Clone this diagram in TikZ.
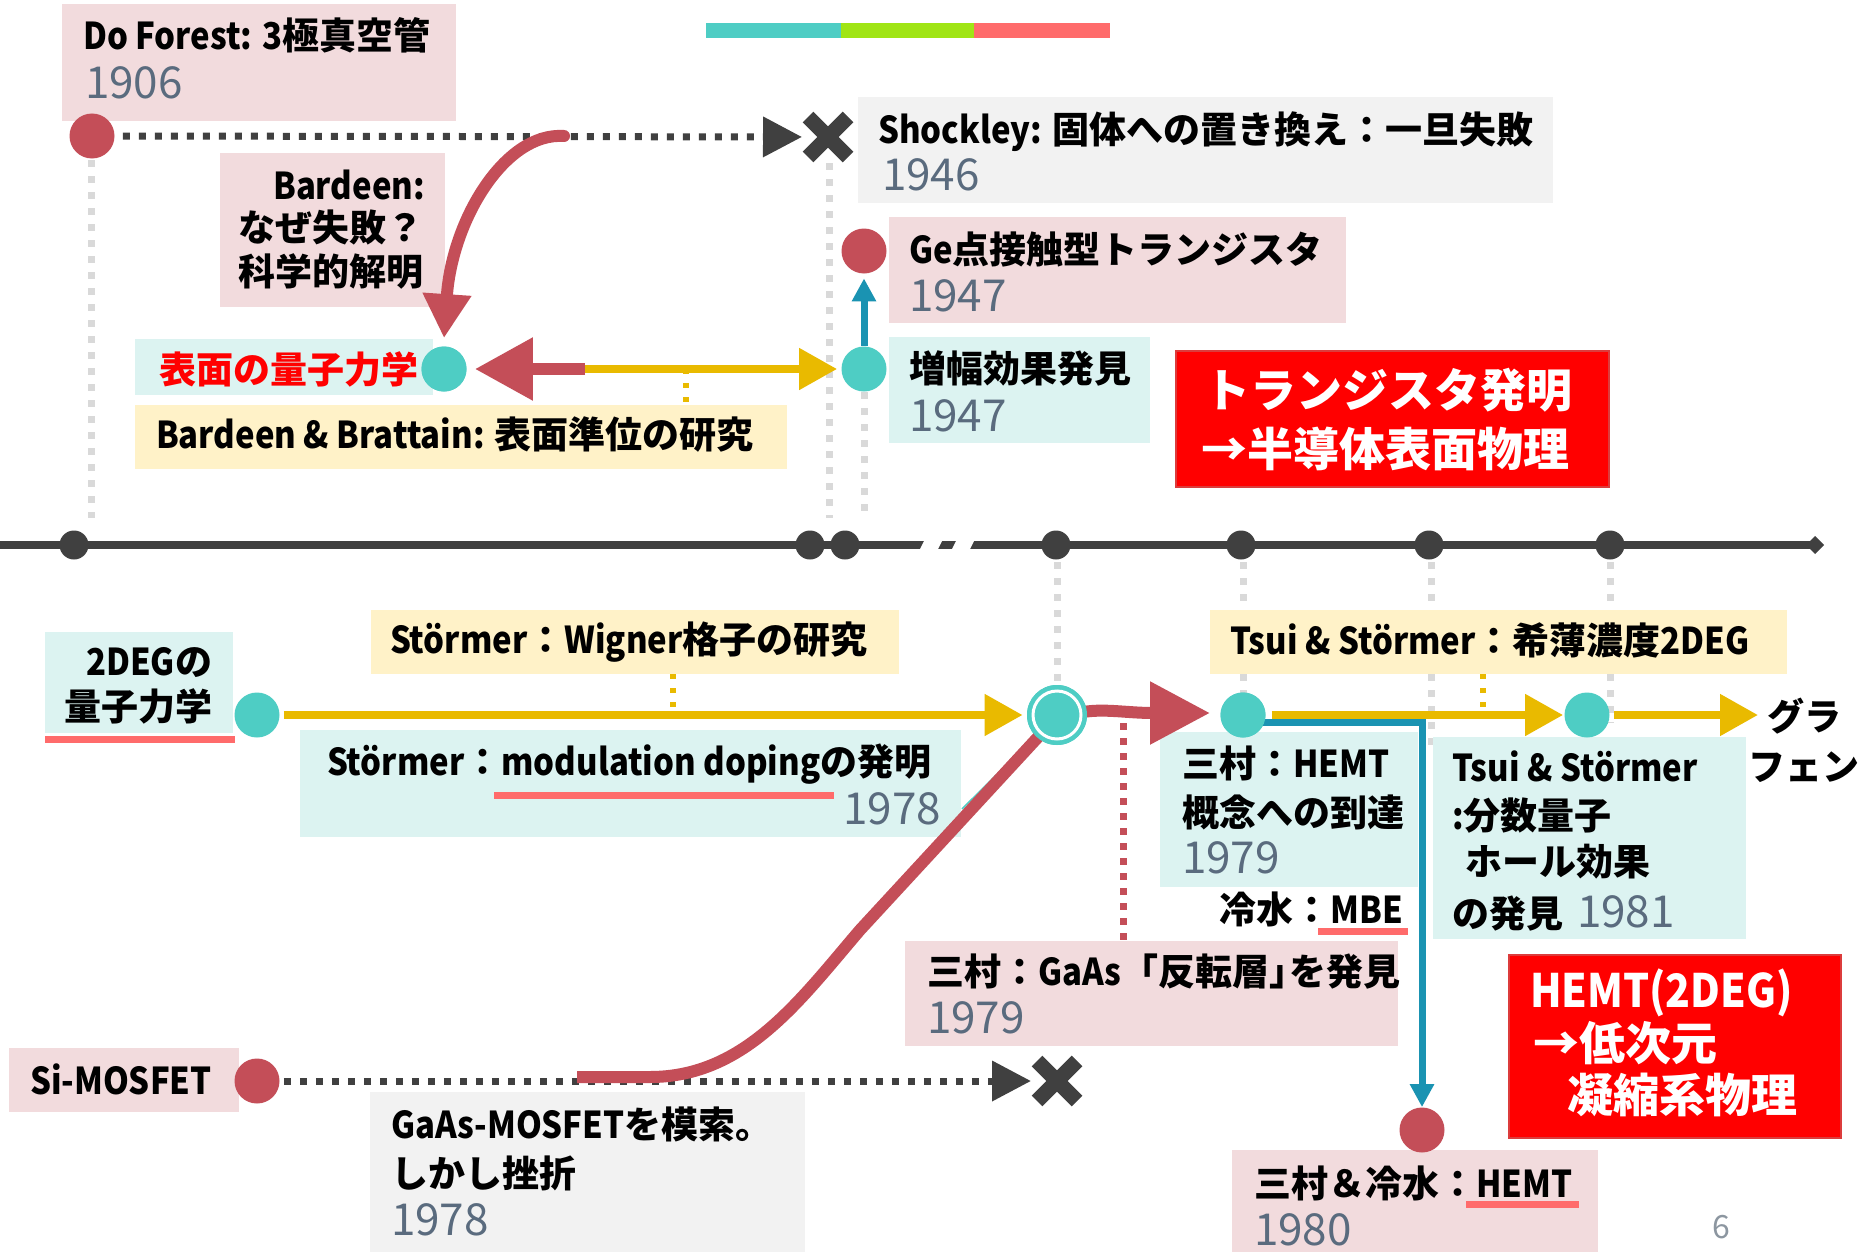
\documentclass[tikz,border=0pt]{standalone}
\usepackage{fontspec}
\setmainfont{Noto Sans CJK JP}
\newfontfamily\latfont{Noto Sans CJK JP}[FakeStretch=0.89]
\newcommand\lat[1]{{\latfont #1}}
\usetikzlibrary{arrows.meta,fit}
\definecolor{pinkbg}{HTML}{F2DBDD}
\definecolor{tealbg}{HTML}{DCF3F1}
\definecolor{yellowbg}{HTML}{FFF2C8}
\definecolor{graybg}{HTML}{F2F2F2}
\definecolor{dotred}{HTML}{C44E58}
\definecolor{dotteal}{HTML}{4ECDC4}
\definecolor{darkc}{HTML}{404040}
\definecolor{goldc}{HTML}{E9BA00}
\definecolor{bluec}{HTML}{1A93B2}
\definecolor{yearc}{HTML}{5A6B7E}
\definecolor{ulc}{HTML}{FF6B6B}
\definecolor{grayln}{HTML}{D9D9D9}
\definecolor{bargreen}{HTML}{A0E515}
\definecolor{bigred}{HTML}{FF0000}
\definecolor{pagec}{HTML}{8C96A0}
\newcommand\txm{\fontsize{18.5pt}{22pt}\selectfont\bfseries}
\newcommand\txy{\fontsize{22pt}{26pt}\selectfont}
\newcommand\txr{\fontsize{23pt}{27pt}\selectfont\bfseries}
\tikzset{
  box/.style={inner sep=0pt, outer sep=0pt, draw=none},
  lbl/.style={anchor=base west, inner sep=0pt, outer sep=0pt, font=\txm},
  lble/.style={anchor=base east, inner sep=0pt, outer sep=0pt, font=\txm},
  yr/.style={anchor=base west, inner sep=0pt, outer sep=0pt, font=\txy, text=yearc},
  yre/.style={anchor=base east, inner sep=0pt, outer sep=0pt, font=\txy, text=yearc},
  wlbl/.style={anchor=base west, inner sep=0pt, outer sep=0pt, font=\txr, text=white},
  rdot/.style={circle, fill=dotred, minimum size=22.5pt, inner sep=0pt},
  tdot/.style={circle, fill=dotteal, minimum size=22.5pt, inner sep=0pt},
  tldot/.style={circle, fill=darkc, minimum size=14.5pt, inner sep=0pt},
  xnode/.style={minimum size=26pt, inner sep=0pt, outer sep=0pt},
  gline/.style={grayln, line width=3.5pt, dash pattern=on 3.5pt off 4.5pt},
  dkdots/.style={darkc, line width=3.5pt, dash pattern=on 3.5pt off 4.5pt, -{Triangle[length=19.5pt,width=19.5pt]}},
  yarrow/.style={goldc, line width=4pt, -{Triangle[length=19pt,width=20pt]}},
  ydash/.style={goldc, line width=3pt, dash pattern=on 2.5pt off 4.5pt},
  rdash/.style={dotred, line width=3.5pt, dash pattern=on 3.5pt off 4pt},
  uline/.style={ulc, line width=3.5pt},
  redarrow/.style={dotred, line width=6pt, -{Triangle[length=29pt,width=30pt]}},
  bluearrow/.style={bluec, line width=3.5pt, -{Triangle[length=11.5pt,width=11.5pt]}},
  xmk/.style={darkc, line width=7.5pt},
}
\begin{document}
\begin{tikzpicture}[x=0.5pt, y=-0.5pt]
\useasboundingbox[fill=white] (0,0) rectangle (1868,1252);

% colour bar
\fill[dotteal] (706,23) rectangle (841,38);
\fill[bargreen] (841,23) rectangle (974,38);
\fill[ulc] (974,23) rectangle (1110,38);

% gray vertical guides
\draw[gline] (91,160) -- (91,518);
\draw[gline] (829,163) -- (829,518);
\draw[gline] (864,392) -- (864,518);
\draw[gline] (1057,562) -- (1057,684);
\draw[gline] (1243,562) -- (1243,693);
\draw[gline] (1431,562) -- (1431,753);
\draw[gline] (1610,562) -- (1610,723);

% timeline
\draw[darkc, line width=4pt] (0,545) -- (1815,545);
\fill[white] (925,539) -- (943,539) -- (937,551) -- (919,551) -- cycle;
\fill[white] (957,539) -- (975,539) -- (969,551) -- (951,551) -- cycle;
\fill[darkc] (1806,545) -- (1815,536) -- (1824,545) -- (1815,554) -- cycle;
\foreach \n/\x in {t1/74,t2/810,t3/845,t4/1056,t5/1241,t6/1429,t7/1610}
  \node[tldot] (\n) at (\x,545) {};

% boxes
\node[box, fill=pinkbg, fit={(62,4) (456,121)}] (bdforest) {};
\node[box, fill=graybg, fit={(858,97) (1553,203)}] (bshock) {};
\node[box, fill=pinkbg, fit={(889,217) (1346,323)}] (bge) {};
\node[box, fill=tealbg, fit={(889,337) (1150,443)}] (bamp) {};
\node[box, fill=pinkbg, fit={(220,153) (445,307)}] (bbard) {};
\node[box, fill=tealbg, fit={(135,339) (433,395)}] (bsurf) {};
\node[box, fill=yellowbg, fit={(135,405) (787,469)}] (bbb) {};
\node[box, fill=bigred, draw={rgb,255:red,220;green,60;blue,60}, line width=1pt, fit={(1176,351) (1609,487)}] (binv) {};
\node[box, fill=tealbg, fit={(45,632) (233,733)}] (b2deg) {};
\node[box, fill=yellowbg, fit={(371,610) (899,674)}] (bwig) {};
\node[box, fill=tealbg, fit={(300,730) (961,837)}] (bmod) {};
\node[box, fill=pinkbg, fit={(9,1048) (239,1112)}] (bsi) {};
\node[box, fill=graybg, fit={(370,1092) (805,1252)}] (bgaasmos) {};
\node[box, fill=pinkbg, fit={(905,941) (1398,1046)}] (binvl) {};
\node[box, fill=tealbg, fit={(1160,732) (1418,887)}] (bhemtc) {};
\node[box, fill=yellowbg, fit={(1210,610) (1787,674)}] (btsuiy) {};
\node[box, fill=tealbg, fit={(1433,737) (1746,939)}] (btsuit) {};
\node[box, fill=bigred, draw={rgb,255:red,220;green,60;blue,60}, line width=1pt, fit={(1509,955) (1841,1138)}] (bhemtr) {};
\node[box, fill=pinkbg, fit={(1232,1150) (1598,1252)}] (bhemt80) {};

% texts
\node[lbl] (tdf) at (83,50) {\lat{Do Forest: 3}極真空管};
\node[yr] (ydf) at (85,98) {1906};
\node[lbl] (tsh) at (878,143) {\lat{Shockley: }固体への置き換え：一旦失敗};
\node[yr] (ysh) at (882,191) {1946};
\node[lbl] (tge) at (909,263) {\lat{Ge}点接触型トランジスタ};
\node[yr] (yge) at (909,311) {1947};
\node[lbl] (tamp) at (909,382) {増幅効果発見};
\node[yr] (yamp) at (909,431) {1947};
\node[lble] (tbd1) at (425,199) {\lat{Bardeen:}};
\node[lble] (tbd2) at (423,241) {なぜ失敗？};
\node[lble] (tbd3) at (423,285) {科学的解明};
\node[lbl, text=red] (tsurf) at (159,383) {表面の量子力学};
\node[lbl] (tbb) at (156,448) {\lat{Bardeen \& Brattain: }表面準位の研究};
\node[wlbl] (tinv1) at (1204,407) {トランジスタ発明};
\node[wlbl] (tinv2) at (1201,466) {→半導体表面物理};
\node[lble] (t2d1) at (212,675) {\lat{2DEG}の};
\node[lble] (t2d2) at (212,720) {量子力学};
\node[lbl] (twig) at (390,653) {\lat{Störmer}：\lat{Wigner}格子の研究};
\node[lbl] (tmod) at (327,775) {\lat{Störmer}：\lat{modulation doping}の発明};
\node[yre] (ymod) at (941,824) {1978};
\node[lbl] (tsi) at (30,1094) {\lat{Si-MOSFET}};
\node[lbl] (tgm1) at (391,1138) {\lat{GaAs-MOSFET}を模索。};
\node[lbl] (tgm2) at (391,1187) {しかし挫折};
\node[yr] (ygm) at (391,1235) {1978};
\node[lbl] (til) at (927,985) {三村：\lat{GaAs}「反転層」\hspace{-0.45em}を発見};
\node[yr] (yil) at (927,1033) {1979};
\node[lbl] (thc1) at (1182,777) {三村：\lat{HEMT}};
\node[lbl] (thc2) at (1182,826) {概念への到達};
\node[yr] (yhc) at (1182,873) {1979};
\node[lble] (tmbe) at (1403,923) {冷水：\lat{MBE}};
\node[lbl] (tts) at (1230,654) {\lat{Tsui \& Störmer}：希薄濃度\lat{2DEG}};
\node[lbl] (tq1) at (1452,781) {\lat{Tsui \& Störmer}};
\node[lbl] (tq2) at (1452,829) {\lat{:}分数量子};
\node[lbl] (tq3) at (1465,875) {ホール効果};
\node[lbl] (tq4) at (1452,927) {の発見};
\node[yr] (yq) at (1577,927) {1981};
\node[wlbl] (th1) at (1530,1007) {\lat{HEMT(2DEG)}};
\node[wlbl] (th2) at (1533,1060) {→低次元};
\node[wlbl] (th3) at (1567,1112) {凝縮系物理};
\node[lbl] (t80) at (1254,1197) {三村＆冷水：\lat{HEMT}};
\node[yr] (y80) at (1254,1245) {1980};
\node[lbl] (tgr1) at (1767,730) {グラ};
\node[lbl] (tgr2) at (1748,780) {フェン};
\node[anchor=base west, inner sep=0pt, font=\fontsize{16pt}{18pt}\selectfont, text=pagec] (pnum) at (1712,1238) {6};

% underlines
\draw[uline] (45,739) -- (235,739);
\draw[uline] (494,795) -- (834,795);
\draw[uline] (1318,931) -- (1408,931);
\draw[uline] (1466,1204) -- (1579,1204);

% dots
\node[rdot] (dfdot) at (92,136) {};
\node[xnode] (xm1) at (828,137) {};
\node[rdot] (gedot) at (864,251) {};
\node[tdot] (ampdot) at (864,369) {};
\node[tdot] (qdot) at (444,369) {};
\node[tdot] (dot2deg) at (257,715) {};
\node[circle, fill=dotteal, minimum size=30pt, inner sep=0pt] (bigc) at (1057,715) {};
\node[tdot] (hemt79) at (1243,715) {};
\node[tdot] (tsuidot) at (1587,715) {};
\node[rdot] (simdot) at (257,1081) {};
\node[xnode] (xm2) at (1057,1081) {};
\node[rdot] (hemt80) at (1422,1130) {};

% helper coordinates
\coordinate (mid1) at (585,369);
\coordinate (ybb) at (686,369);
\coordinate (ybbb) at (686,405);
\coordinate (bstart) at (564,136);
\coordinate (ywig) at (673,715);
\coordinate (ywigb) at (673,674);
\coordinate (ytsui) at (1483,715);
\coordinate (ytsuib) at (1483,674);
\coordinate (grend) at (1758,715);
\coordinate (modc) at (962,809);
\coordinate (rdtop) at (1123,723);
\coordinate (rdbot) at (1123,940);
\coordinate (sstart) at (577,1077);
\coordinate (send) at (1210,713);

% connectors, top
\draw[dkdots, shorten <=4pt] (dfdot) -- (xm1);
\draw[xmk] ([shift={(-20,-20)}]xm1.center) -- ([shift={(20,20)}]xm1.center);
\draw[xmk] ([shift={(-20,20)}]xm1.center) -- ([shift={(20,-20)}]xm1.center);
\draw[ydash] (ybb) -- (ybbb);
\draw[yarrow, shorten >=2pt] (mid1) -- (ampdot);
\draw[redarrow, shorten >=4pt] (mid1) -- (qdot);
\draw[dotred, line width=6pt, line cap=round, -{Triangle[length=22pt,width=23pt]}]
  (bstart) .. controls (505,132) and (452,220) .. ([yshift=4pt]qdot.north);
\draw[bluearrow, shorten >=2.25pt] (ampdot) -- (gedot);

% connectors, bottom
\draw[dkdots, shorten <=2pt] (simdot) -- (xm2);
\draw[xmk] ([shift={(-20,-20)}]xm2.center) -- ([shift={(20,20)}]xm2.center);
\draw[xmk] ([shift={(-20,20)}]xm2.center) -- ([shift={(20,-20)}]xm2.center);
\draw[ydash] (ywigb) -- (ywig);
\draw[ydash] (ytsuib) -- (ytsui);
\draw[rdash] (rdtop) -- (rdbot);
\draw[dotteal, line width=0.8pt] (modc) -- (bigc);
\draw[yarrow, shorten <=2pt, shorten >=2pt] (dot2deg) -- (bigc);
\draw[bluearrow] ([yshift=-3.5pt]hemt79.center) -| (hemt80.north);
\draw[yarrow, shorten <=3pt, shorten >=0.5pt] (hemt79) -- (tsuidot);
\draw[yarrow, shorten <=2pt] (tsuidot) -- (grend);
\draw[dotred, line width=6pt, -{Triangle[length=30pt,width=30pt]}]
  (sstart) -- (650,1077) .. controls (745,1077) and (800,1000) .. (860,930)
  -- (1040,735) .. controls (1075,700) and (1110,713) .. (send);

% redraw dots on top
\node[circle, fill=dotteal, minimum size=30pt, inner sep=0pt] (bigc2) at (1057,715) {};
\draw[white, line width=1.5pt] (bigc2.center) circle [radius=12pt];
\node[tdot] (hemt79b) at (1243,715) {};
\node[tdot] (qdotb) at (444,369) {};
\end{tikzpicture}
\end{document}
